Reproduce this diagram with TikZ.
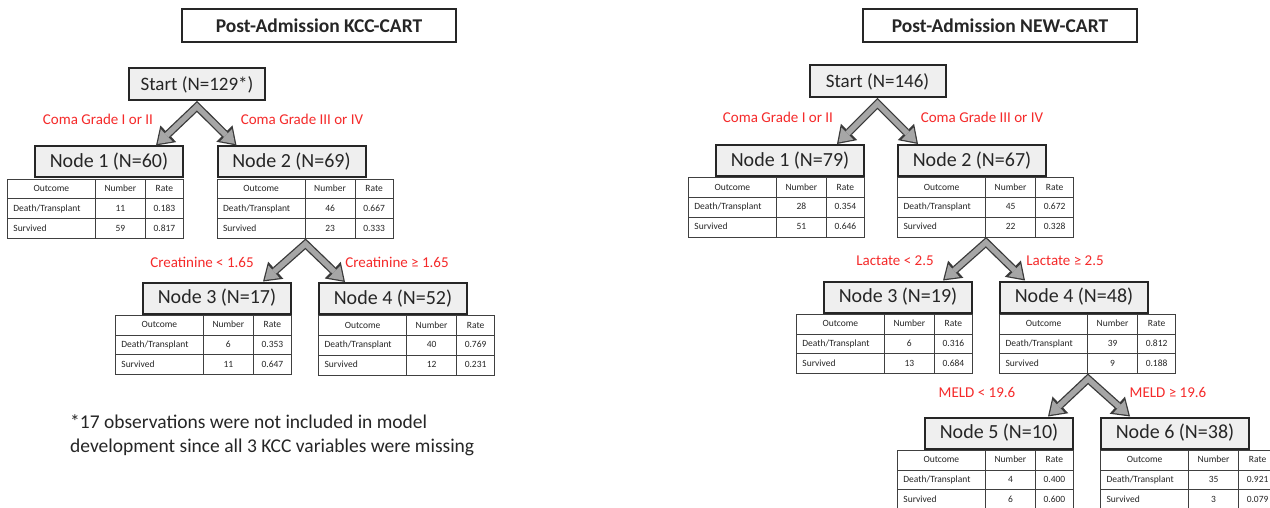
\documentclass[tikz,border=0pt]{standalone}
\usepackage{fontspec}
\setmainfont{Carlito}
\usetikzlibrary{arrows.meta, positioning, calc, matrix}

\definecolor{boxedge}{HTML}{262626}
\definecolor{leaffill}{HTML}{EFEFEF}
\definecolor{arrfill}{HTML}{A6A6A6}
\definecolor{arredge}{HTML}{3A3A3A}
\definecolor{splitred}{HTML}{F52A2A}
\definecolor{inktext}{HTML}{262626}
\definecolor{tabline}{HTML}{404040}

% outcome table hanging under a tree node:
% name, placement, deaths, death rate, survivors, survival rate
\newcommand{\outcometab}[6]{%
  \matrix[restab, #2] (#1) {
    |[align=center]| Outcome \& Number \& Rate \\
    Death/Transplant \& #3 \& #4 \\
    Survived \& #5 \& #6 \\
  };}

% block arrows of one split: apex, left tip, right tip
% (dark pass first, grey pass on top gives the outline)
\newcommand{\splitarrows}[3]{%
  \draw[splitout] (#2) -- (#1) -- (#3);
  \draw[splitin]  (#2) -- (#1) -- (#3);}

\begin{document}
\begin{tikzpicture}[
  x=1pt, y=-1pt, font=\fontsize{19}{22}\selectfont, text=inktext,
  headbox/.style={draw=boxedge, line width=2pt, fill=white, minimum width=274pt,
                  minimum height=33pt, font=\fontsize{19.5}{22}\selectfont\bfseries},
  rootbox/.style={draw=boxedge, line width=2pt, fill=leaffill,
                  minimum width=136pt, minimum height=32pt},
  leaf/.style={rootbox, minimum width=148pt, minimum height=31pt,
               font=\fontsize{20}{23}\selectfont},
  cut/.style={text=splitred, font=\fontsize{15}{17}\selectfont},
  note/.style={align=left, font=\fontsize{19.5}{24}\selectfont, inner sep=0pt},
  restab/.style={matrix of nodes, ampersand replacement=\&, inner sep=0pt,
                 column sep=-0.8pt, row sep=-0.8pt,
                 nodes={draw=tabline, line width=0.8pt, font=\fontsize{9.5}{11}\selectfont,
                        minimum height=19.8pt, text height=7pt, text depth=2pt,
                        inner xsep=6pt, inner ysep=2pt},
                 column 1/.style={nodes={text width=76pt, align=left}},
                 column 2/.style={nodes={minimum width=50pt}},
                 column 3/.style={nodes={minimum width=38pt}}},
  splitout/.style={line width=8pt, draw=arredge, line join=miter,
                   {Triangle[length=17pt, width=23pt, line width=0pt]}-{Triangle[length=17pt, width=23pt, line width=0pt]}},
  splitin/.style={line width=5.4pt, draw=arrfill, line join=miter,
                  shorten <=2.3pt, shorten >=2.3pt,
                  {Triangle[length=12.4pt, width=17pt, line width=0pt]}-{Triangle[length=12.4pt, width=17pt, line width=0pt]}},
]
\path[use as bounding box, fill=white] (0,0) rectangle (1270,508);

% ---- KCC tree (left) ----
\node[headbox] (ktitle) at (319,26) {Post-Admission KCC-CART};
\node[rootbox] (kstart) at (197,84.5) {Start (N=129*)};
\node[leaf] (kn1) at (109,162) {Node 1 (N=60)};
\node[leaf] (kn2) at (291.5,162) {Node 2 (N=69)};
\node[leaf] (kn3) at (217,298) {Node 3 (N=17)};
\node[leaf] (kn4) at (393,298.5) {Node 4 (N=52)};

\outcometab{kt1}{below left=0pt and 0pt of kn1.south east}{11}{0.183}{59}{0.817}
\outcometab{kt2}{below right=0pt and 0pt of kn2.south west}{46}{0.667}{23}{0.333}
\outcometab{kt3}{below left=0pt and 0pt of kn3.south east}{6}{0.353}{11}{0.647}
\outcometab{kt4}{below right=0pt and 0pt of kn4.south west}{40}{0.769}{12}{0.231}

\coordinate (ka1) at ($(kstart.south)+(0,5)$);
\coordinate (kl1) at ($(kn1.north east)+(-28,0)$);
\coordinate (kr1) at ($(kn2.north west)+(20,0)$);
\coordinate (ka2) at ($(kt2-3-1.south east)+(0,5)$);
\coordinate (kl2) at ($(kn3.north east)+(-29,0)$);
\coordinate (kr2) at ($(kn4.north west)+(27,0)$);
\splitarrows{ka1}{kl1}{kr1}
\splitarrows{ka2}{kl2}{kr2}

\node[cut] (kc1) at (98,119) {Coma Grade I or II};
\node[cut] (kc2) at (302,119) {Coma Grade III or IV};
\node[cut] (kc3) at (202,262) {Creatinine < 1.65};
\node[cut] (kc4) at (397,262) {Creatinine ≥ 1.65};

\node[note, anchor=west] (fnote) at (70,435)
  {*17 observations were not included in model\\development since all 3 KCC variables were missing};

% ---- NEW tree (right) ----
\node[headbox] (ntitle) at (1000,26) {Post-Admission NEW-CART};
\node[rootbox] (nstart) at (877.5,81.5) {Start (N=146)};
\node[leaf] (nn1) at (790,160.5) {Node 1 (N=79)};
\node[leaf] (nn2) at (972,160.5) {Node 2 (N=67)};
\node[leaf] (nn3) at (898,297) {Node 3 (N=19)};
\node[leaf] (nn4) at (1074,297) {Node 4 (N=48)};
\node[leaf] (nn5) at (999,433) {Node 5 (N=10)};
\node[leaf] (nn6) at (1175,433) {Node 6 (N=38)};

\outcometab{nt1}{below left=0pt and 0pt of nn1.south east}{28}{0.354}{51}{0.646}
\outcometab{nt2}{below right=0pt and 0pt of nn2.south west}{45}{0.672}{22}{0.328}
\outcometab{nt3}{below left=0pt and 0pt of nn3.south east}{6}{0.316}{13}{0.684}
\outcometab{nt4}{below right=0pt and 0pt of nn4.south west}{39}{0.812}{9}{0.188}
\outcometab{nt5}{below left=0pt and 0pt of nn5.south east}{4}{0.400}{6}{0.600}
\outcometab{nt6}{below right=0pt and 0pt of nn6.south west}{35}{0.921}{3}{0.079}

\coordinate (na1) at ($(nstart.south)+(0,5)$);
\coordinate (nl1) at ($(nn1.north east)+(-28,0)$);
\coordinate (nr1) at ($(nn2.north west)+(21,0)$);
\coordinate (na2) at ($(nt2-3-1.south east)+(0,5)$);
\coordinate (nl2) at ($(nn3.north east)+(-30,0)$);
\coordinate (nr2) at ($(nn4.north west)+(26,0)$);
\coordinate (na3) at ($(nt4-3-1.south east)+(0,5)$);
\coordinate (nl3) at ($(nn5.north east)+(-26,0)$);
\coordinate (nr3) at ($(nn6.north west)+(30,0)$);
\splitarrows{na1}{nl1}{nr1}
\splitarrows{na2}{nl2}{nr2}
\splitarrows{na3}{nl3}{nr3}

\node[cut] (nc1) at (778,117) {Coma Grade I or II};
\node[cut] (nc2) at (982,117) {Coma Grade III or IV};
\node[cut] (nc3) at (895,261) {Lactate < 2.5};
\node[cut] (nc4) at (1065,261) {Lactate ≥ 2.5};
\node[cut] (nc5) at (977,392) {MELD < 19.6};
\node[cut] (nc6) at (1168,392) {MELD ≥ 19.6};
\end{tikzpicture}
\end{document}
